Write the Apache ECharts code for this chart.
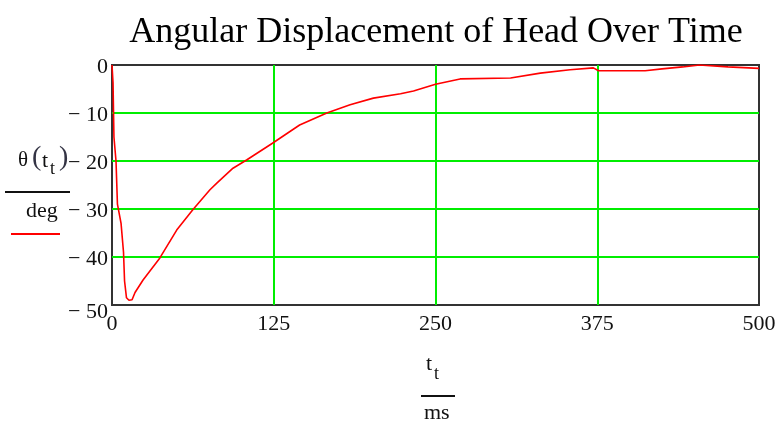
<!DOCTYPE html>
<html>
<head>
<meta charset="utf-8">
<script src="https://cdn.jsdelivr.net/npm/echarts@6/dist/echarts.min.js"></script>
<style>
html,body{margin:0;padding:0;background:#fff;}
#chart{width:784px;height:427px;}
</style>
</head>
<body>
<div id="chart"></div>
<script>
// time (ms)
var timeMs = [0, 0.8, 1.5, 3.1, 4.2, 7, 8.9, 9.7, 11.2, 13.1, 15.5, 17.8, 24, 37, 50, 62.6, 75.7, 81, 93.5, 104, 124, 145, 166, 184, 202, 223, 233, 250, 269, 308, 331, 354, 372, 376, 412, 413, 425, 426, 441, 442, 454, 455, 476, 477, 500];
// theta (deg)
var thetaDeg = [0, -3.7, -15, -20, -29, -33, -39, -45, -48.5, -49, -48.9, -47.4, -44.8, -40.2, -34.4, -30.1, -26, -24.6, -21.5, -19.8, -16.3, -12.5, -10, -8.3, -6.9, -6.0, -5.4, -4.0, -2.9, -2.7, -1.7, -1.0, -0.6, -1.2, -1.2, -0.8, -0.8, -0.4, -0.4, 0, 0, -0.4, -0.4, -0.7, -0.7];
var xTickValues = [0, 125, 250, 375, 500];
var xTickLabels = ['0', '125', '250', '375', '500'];
var yTickValues = [-50, -40, -30, -20, -10, 0];
var yTickLabels = ['\u2212 50', '\u2212 40', '\u2212 30', '\u2212 20', '\u2212 10', '0'];
var titleText = 'Angular Displacement of Head Over Time';

var points = timeMs.map(function (t, i) { return [t, thetaDeg[i]]; });
var serif = '"Liberation Serif","Times New Roman",serif';

var chart = echarts.init(document.getElementById('chart'), null, {renderer: 'canvas'});
chart.setOption({
  animation: false,
  backgroundColor: '#fff',
  title: {
    text: titleText,
    left: 431,
    textAlign: 'center',
    top: 10,
    textStyle: {fontFamily: serif, fontSize: 36, fontWeight: 'normal', color: '#000'}
  },
  grid: {
    left: 112, right: 25, top: 65, bottom: 122,
    show: true, borderColor: '#333', borderWidth: 2, backgroundColor: 'transparent'
  },
  xAxis: {
    type: 'value', min: 0, max: 500, interval: 125,
    axisLine: {show: false}, axisTick: {show: false},
    splitLine: {show: true, showMinLine: false, showMaxLine: false, lineStyle: {color: '#00ee00', width: 2}},
    axisLabel: {
      margin: 8, fontFamily: serif, fontSize: 22, color: '#111',
      formatter: function (v) { var i = xTickValues.indexOf(v); return i >= 0 ? xTickLabels[i] : ''; }
    }
  },
  yAxis: {
    type: 'value', min: -50, max: 0, interval: 10,
    axisLine: {show: false}, axisTick: {show: false},
    splitLine: {show: true, showMinLine: false, showMaxLine: false, lineStyle: {color: '#00ee00', width: 2}},
    axisLabel: {
      margin: 4, fontFamily: serif, fontSize: 22, color: '#111',
      formatter: function (v) {
        var i = yTickValues.indexOf(v);
        if (i < 0) return '';
        if (v === -50) return '{low|' + yTickLabels[i] + '}';
        return '{n|' + yTickLabels[i] + '}';
      },
      rich: {
        n: {fontFamily: serif, fontSize: 22, color: '#111', padding: [4, 0, 0, 0]},
        low: {fontFamily: serif, fontSize: 22, color: '#111', padding: [14, 0, 0, 0]}
      }
    }
  },
  series: [{
    type: 'line',
    data: points,
    showSymbol: false,
    clip: true,
    lineStyle: {color: '#ff0000', width: 1.6},
    z: 3
  }],
  graphic: [
    // y-axis title: theta(t_t) / deg
    {type: 'text', left: 18, top: 150, style: {text: '\u03b8', font: '21px ' + serif, fill: '#111'}},
    {type: 'text', left: 32, top: 144, style: {text: '(', font: '28px ' + serif, fill: '#334'}},
    {type: 'text', left: 42, top: 150, style: {text: 't', font: '22px ' + serif, fill: '#111'}},
    {type: 'text', left: 50, top: 160, style: {text: 't', font: '18px ' + serif, fill: '#111'}},
    {type: 'text', left: 59, top: 144, style: {text: ')', font: '28px ' + serif, fill: '#334'}},
    {type: 'line', shape: {x1: 5, y1: 192, x2: 70, y2: 192}, style: {stroke: '#111', lineWidth: 2}},
    {type: 'text', left: 26, top: 200, style: {text: 'deg', font: '22px ' + serif, fill: '#111'}},
    {type: 'line', shape: {x1: 11, y1: 234, x2: 60, y2: 234}, style: {stroke: '#ff0000', lineWidth: 2}},
    // x-axis title: t_t / ms
    {type: 'text', left: 426, top: 353, style: {text: 't', font: '22px ' + serif, fill: '#111'}},
    {type: 'text', left: 434, top: 365, style: {text: 't', font: '18px ' + serif, fill: '#111'}},
    {type: 'line', shape: {x1: 421, y1: 396, x2: 455, y2: 396}, style: {stroke: '#111', lineWidth: 2}},
    {type: 'text', left: 424, top: 402, style: {text: 'ms', font: '22px ' + serif, fill: '#111'}}
  ]
});
</script>
</body>
</html>
